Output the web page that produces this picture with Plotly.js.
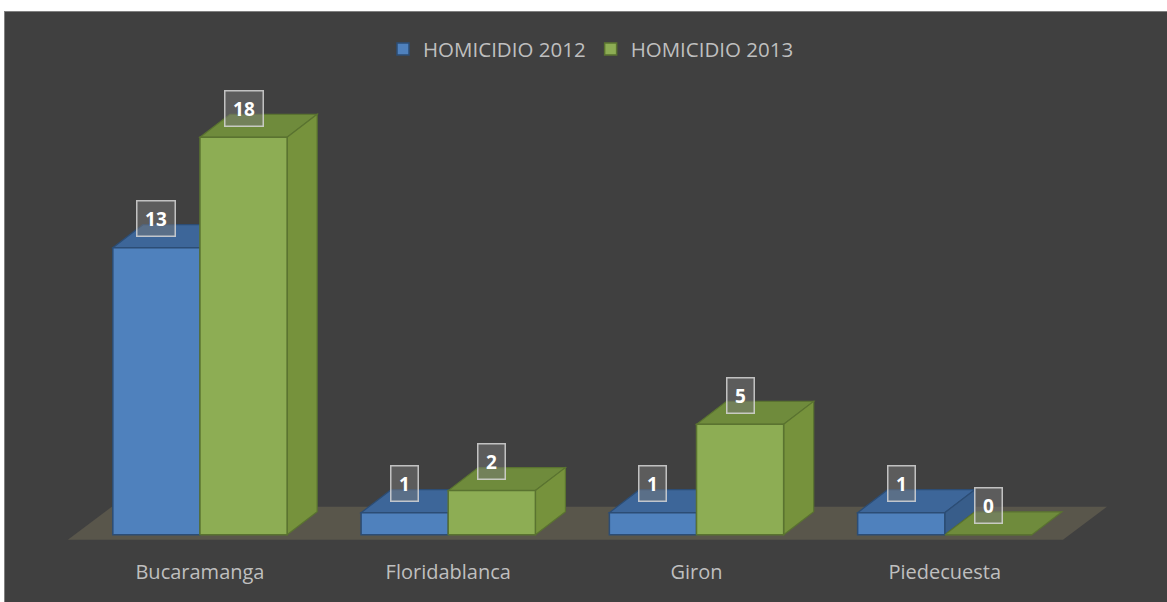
<!DOCTYPE html>
<html>
<head>
<meta charset="utf-8">
<script src="https://cdn.plot.ly/plotly-3.0.1.min.js"></script>
<style>
  html, body { margin: 0; padding: 0; background: #ffffff; width: 1167px; height: 602px; overflow: hidden; }
  #wrap { position: absolute; left: 4px; top: 11px; width: 1162px; height: 590px; border-left: 1px solid #808080; border-top: 1px solid #808080; background: #404040; }
  #chart { width: 1162px; height: 590px; }
</style>
</head>
<body>
<div id="wrap"><div id="chart"></div></div>
<script>
// ---- data ----
const categories = ['Bucaramanga', 'Floridablanca', 'Giron', 'Piedecuesta'];
const homicidio2012 = [13, 1, 1, 1];
const homicidio2013 = [18, 2, 5, 0];
const seriesNames = ['HOMICIDIO 2012', 'HOMICIDIO 2013'];

// ---- style constants ----
const W = 0.351;          // bar width (x units)
const DX = 0.121;         // 3D depth offset (x units)
const DY = 1.04;          // 3D depth offset (y units)
const FONT = '"Open Sans", Lato, sans-serif';
const styles = [
  { front: '#4f81bd', top: '#3d6699', side: '#385d8a', line: '#2c4d75', offset: -W },
  { front: '#8dad54', top: '#6f8b3c', side: '#76923c', line: '#5a7330', offset: 0 }
];
const seriesValues = [homicidio2012, homicidio2013];
const xs = categories.map((c, i) => i);

const traces = seriesValues.map((vals, s) => ({
  type: 'bar',
  name: seriesNames[s],
  x: xs,
  y: vals,
  width: W,
  offset: styles[s].offset,
  marker: { color: styles[s].front, line: { color: styles[s].line, width: 1.5 } },
  hoverinfo: 'skip'
}));

// floor
const shapes = [];
const fx0 = -0.532, fx1 = 3.476, fy0 = -0.226, fy1 = 1.267, fdx = 0.177;
shapes.push({
  type: 'path', xref: 'x', yref: 'y', layer: 'below',
  path: `M ${fx0},${fy0} L ${fx1},${fy0} L ${fx1 + fdx},${fy1} L ${fx0 + fdx},${fy1} Z`,
  fillcolor: '#59564b', line: { width: 0 }
});

const annotations = [];
xs.forEach(i => {
  seriesValues.forEach((vals, s) => {
    const v = vals[i];
    const st = styles[s];
    const x0 = i + st.offset, x1 = x0 + W;
    // top face
    shapes.push({
      type: 'path', xref: 'x', yref: 'y', layer: 'below',
      path: `M ${x0},${v} L ${x1},${v} L ${x1 + DX},${v + DY} L ${x0 + DX},${v + DY} Z`,
      fillcolor: st.top, line: { color: st.line, width: 1.2 }
    });
    // side face
    if (v > 0) {
      shapes.push({
        type: 'path', xref: 'x', yref: 'y', layer: 'below',
        path: `M ${x1},0 L ${x1},${v} L ${x1 + DX},${v + DY} L ${x1 + DX},${DY} Z`,
        fillcolor: st.side, line: { color: st.line, width: 1.2 }
      });
    }
    const label = String(v);
    annotations.push({
      x: x0 + W / 2, y: v, xref: 'x', yref: 'y', yshift: 29,
      text: label, showarrow: false,
      font: { family: FONT, size: 19, color: '#ffffff', weight: 'bold' },
      bgcolor: 'rgba(120,120,120,0.5)', bordercolor: 'rgba(215,215,215,0.85)',
      borderwidth: 1.5, borderpad: 2,
      width: label.length > 1 ? 33 : 22, height: 30,
      xanchor: 'center', yanchor: 'middle'
    });
  });
});

const layout = {
  width: 1162, height: 590,
  paper_bgcolor: '#404040', plot_bgcolor: 'rgba(0,0,0,0)',
  margin: { l: 46, r: 36, t: 59, b: 54 },
  font: { family: FONT, color: '#bfbfbf', size: 18 },
  showlegend: true,
  legend: {
    orientation: 'h', x: 0.5, xanchor: 'center', y: 1.046, yanchor: 'middle',
    font: { family: FONT, size: 20.5, color: '#bfbfbf' }, bgcolor: 'rgba(0,0,0,0)',
    traceorder: 'normal', itemwidth: 30
  },
  xaxis: {
    range: [-0.6, 3.75], tickvals: xs, ticktext: categories,
    showgrid: false, zeroline: false, showline: false, ticks: '',
    ticklabelstandoff: 10, tickfont: { family: FONT, size: 20, color: '#bfbfbf' },
    fixedrange: true
  },
  yaxis: { range: [-0.6, 21], visible: false, showgrid: false, zeroline: false, fixedrange: true },
  shapes: shapes,
  annotations: annotations
};

Plotly.newPlot('chart', traces, layout, { displayModeBar: false, staticPlot: true });
</script>
</body>
</html>
